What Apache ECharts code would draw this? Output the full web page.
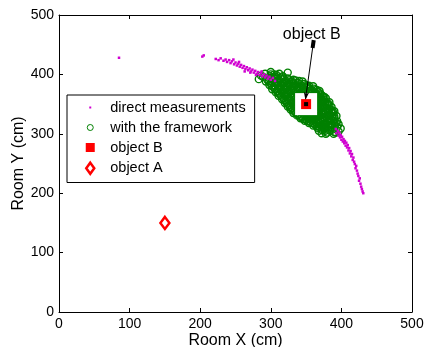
<!DOCTYPE html>
<html>
<head>
<meta charset="utf-8">
<script src="https://cdn.jsdelivr.net/npm/echarts@6/dist/echarts.min.js"></script>
<style>
  html, body { margin: 0; padding: 0; background: #fff; }
  #chart { width: 424px; height: 347px; }
</style>
</head>
<body>
<div id="chart"></div>
<script>
// raw position estimates (cm)
const directMeasurements = [
  [85, 428], [203, 430], [205, 432],
  [222, 426], [226, 424], [229, 427], [233, 423], [236, 425], [238, 421], [241, 424], [243, 419],
  [245, 422], [247, 425], [248, 417], [250, 420], [252, 415], [254, 418], [255, 421], [256, 413],
  [258, 416], [260, 411], [262, 414], [263, 405], [264, 409], [266, 412], [268, 407], [270, 410],
  [271, 403], [272, 405], [274, 408], [276, 403], [278, 406], [279, 399], [280, 401], [282, 404],
  [284, 399], [286, 402], [287, 405], [288, 397], [290, 400], [292, 395], [294, 398], [296, 393],
  [298, 396], [300, 391], [303, 394], [306, 389],
  [392, 308], [395, 305], [393, 301], [397, 302], [396, 297], [399, 298], [398, 294], [401, 295],
  [400, 290], [403, 291], [402, 287], [405, 288], [404, 284], [407, 285], [406, 280], [409, 281],
  [408, 277], [411, 276], [410, 272], [413, 271], [412, 267], [415, 266], [414, 262], [417, 260],
  [416, 256], [418, 253], [419, 249], [421, 246], [420, 242], [422, 238], [423, 233], [424, 229],
  [426, 225], [425, 221], [427, 216], [428, 211], [429, 207], [430, 203], [431, 200]
];

const framework = [
  [389, 300], [396, 304], [392, 302], [390, 303],
  [380, 302], [387, 307], [394, 311], [384, 305],
  [373, 306], [379, 310], [384, 314], [390, 318], [394, 321],
  [366, 310], [372, 314], [378, 318], [383, 323], [389, 327], [393, 330],
  [360, 314], [365, 318], [371, 322], [376, 327], [382, 331], [387, 335], [390, 338],
  [354, 318], [359, 322], [365, 327], [370, 331], [375, 336], [381, 340], [386, 345],
  [348, 322], [353, 326], [358, 331], [364, 336], [369, 340], [374, 345], [380, 349], [383, 353],
  [342, 326], [348, 331], [353, 336], [358, 341], [363, 345], [368, 350], [373, 355], [378, 360],
  [337, 331], [342, 336], [347, 340], [352, 345], [357, 350], [362, 355], [367, 360], [372, 365],
  [332, 335], [337, 340], [342, 345], [347, 350], [352, 355], [357, 360], [362, 365], [367, 370],
  [328, 341], [333, 346], [338, 351], [342, 356], [347, 361], [352, 366], [357, 372], [361, 376],
  [324, 346], [328, 351], [333, 357], [338, 362], [342, 367], [347, 372], [352, 378], [354, 381],
  [320, 352], [324, 358], [329, 363], [333, 368], [338, 374], [342, 379], [347, 384],
  [316, 358], [320, 364], [324, 369], [329, 375], [333, 380], [338, 386], [340, 389],
  [311, 364], [316, 370], [320, 375], [324, 381], [328, 387], [332, 391],
  [307, 370], [311, 376], [315, 381], [319, 387], [324, 393],
  [302, 375], [306, 381], [310, 387], [314, 393], [317, 397],
  [298, 382], [301, 388], [305, 394], [308, 399],
  [293, 388], [297, 394], [300, 400],
  [289, 396], [292, 401],
  [381, 307], [386, 311], [377, 305], [391, 314],
  [372, 309], [377, 314], [383, 318], [389, 322],
  [365, 313], [370, 318], [376, 322], [382, 326], [387, 330],
  [359, 318], [364, 322], [370, 327], [375, 331], [381, 335], [386, 340],
  [352, 321], [357, 326], [363, 330], [368, 335], [374, 339], [379, 344], [383, 348],
  [346, 325], [351, 330], [357, 334], [362, 339], [367, 344], [372, 348], [377, 353],
  [341, 329], [346, 334], [351, 339], [356, 344], [361, 349], [366, 353], [371, 358], [376, 362],
  [336, 334], [341, 339], [346, 344], [351, 349], [356, 354], [361, 359], [366, 364], [370, 368],
  [331, 339], [336, 344], [341, 349], [346, 354], [351, 359], [355, 364], [360, 370], [365, 374],
  [327, 345], [331, 350], [336, 355], [341, 360], [346, 365], [350, 371], [355, 376],
  [323, 351], [328, 356], [332, 361], [337, 367], [341, 372], [346, 377], [350, 382],
  [319, 357], [323, 362], [328, 368], [332, 373], [337, 378], [341, 384],
  [315, 363], [319, 368], [323, 374], [327, 379], [332, 385], [335, 390],
  [310, 369], [314, 374], [318, 380], [323, 386], [326, 390],
  [306, 375], [310, 381], [314, 387], [318, 392],
  [301, 381], [305, 387], [309, 393],
  [297, 388], [301, 394], [305, 400],
  [324, 403], [312, 401], [286, 398], [283, 392], [396, 316], [399, 309],
  [378, 300], [372, 301], [368, 305], [345, 388], [360, 380], [300, 404],
  [375, 309], [381, 313], [386, 316], [392, 319],
  [368, 312], [374, 316], [380, 320], [385, 325], [390, 329],
  [362, 316], [367, 320], [373, 325], [378, 329], [384, 333], [388, 337],
  [356, 320], [361, 324], [367, 329], [372, 333], [377, 338], [382, 342],
  [350, 324], [355, 328], [361, 333], [366, 337], [371, 342], [376, 347], [381, 351],
  [344, 328], [350, 333], [355, 337], [360, 342], [365, 347], [370, 351], [375, 357],
  [339, 332], [344, 337], [349, 342], [359, 352], [364, 357], [369, 362], [374, 363],
  [334, 337], [339, 342], [354, 357], [359, 362], [364, 367], [369, 372],
  [330, 343], [335, 348], [340, 353], [344, 358], [349, 363], [354, 369], [358, 374],
  [326, 348], [330, 353], [335, 359], [340, 364], [344, 369], [349, 374], [352, 380],
  [322, 354], [326, 360], [331, 365], [335, 371], [340, 376], [344, 381],
  [318, 360], [322, 366], [326, 371], [331, 377], [335, 382],
  [313, 366], [317, 372], [321, 377], [326, 383], [330, 388],
  [309, 372], [313, 378], [317, 384], [321, 389],
  [304, 378], [308, 384], [312, 390], [316, 395],
  [300, 385], [303, 391], [307, 396],
  [295, 391], [299, 397]
];

const objectB = [[350, 350]];
const objectA = [[150, 150]];
const arrowFrom = [360, 451];
const arrowTo = [349, 357];
const labelPos = [358, 467];
const legendNames = ['direct measurements', 'with the framework', 'object B', 'object A'];

const FONT = '"Liberation Sans", Arial, Helvetica, sans-serif';

const chart = echarts.init(document.getElementById('chart'), null, { renderer: 'canvas' });

function axis(pos, withLabels, name, nameGap) {
  return {
    type: 'value',
    position: pos,
    min: 0,
    max: 500,
    interval: 100,
    name: name,
    nameLocation: 'middle',
    nameGap: nameGap,
    nameMoveOverlap: false,
    nameTextStyle: { color: '#000', fontSize: 16, fontFamily: FONT },
    axisLine: { show: true, onZero: false, lineStyle: { color: '#000', width: 1 } },
    axisTick: { show: true, inside: true, length: 4, lineStyle: { color: '#000' } },
    axisLabel: { show: withLabels, color: '#000', fontSize: 14, fontFamily: FONT, margin: 5 },
    splitLine: { show: false }
  };
}

const option = {
  animation: false,
  textStyle: { fontFamily: FONT },
  grid: { left: 59, right: 12, top: 15, bottom: 35, outerBoundsMode: 'none', containLabel: false },
  xAxis: [axis('bottom', true, 'Room X (cm)', 21), axis('top', false, '', 0)],
  yAxis: [axis('left', true, 'Room Y (cm)', 32), axis('right', false, '', 0)],
  legend: {
    orient: 'vertical',
    left: 67,
    top: 95,
    padding: [5, 9, 6, 15],
    itemGap: 5,
    itemWidth: 22,
    itemHeight: 14,
    selectedMode: false,
    backgroundColor: '#fff',
    borderColor: '#000',
    borderWidth: 1,
    textStyle: { color: '#000', fontSize: 14.5, fontFamily: FONT },
    data: [
      { name: legendNames[0], icon: 'path://M0,0M22,14M6,6h2v2h-2Z',
        itemStyle: { color: '#d000d0', borderWidth: 0, opacity: 1 } },
      { name: legendNames[1], icon: 'path://M0,0M22,14M10,7A3,3,0,1,1,4,7A3,3,0,1,1,10,7Z',
        itemStyle: { color: 'rgba(0,0,0,0)', borderColor: '#008000', borderWidth: 1, opacity: 1 } },
      { name: legendNames[2], icon: 'path://M0,0M22,14M2.5,2.5h9v9h-9Z',
        itemStyle: { color: '#ff0000', borderWidth: 0, opacity: 1 } },
      { name: legendNames[3], icon: 'path://M0,0M22,14M7,1.5L11,7L7,12.5L3,7Z',
        itemStyle: { color: '#fff', borderColor: '#ff0000', borderWidth: 2.5, opacity: 1 } }
    ]
  },
  series: [
    {
      name: legendNames[1],
      type: 'scatter',
      z: 2,
      symbol: 'circle',
      symbolSize: 7,
      itemStyle: { color: 'rgba(0,0,0,0)', borderColor: '#008000', borderWidth: 1.4, opacity: 1 },
      data: framework
    },
    {
      name: legendNames[0],
      type: 'scatter',
      z: 3,
      symbol: 'rect',
      symbolSize: 2.5,
      itemStyle: { color: '#d000d0', opacity: 1 },
      data: directMeasurements
    },
    {
      name: 'mask',
      type: 'scatter',
      z: 4,
      symbol: 'rect',
      symbolSize: 22,
      itemStyle: { color: '#fff', opacity: 1 },
      data: objectB
    },
    {
      name: legendNames[2],
      type: 'scatter',
      z: 5,
      symbol: 'rect',
      symbolSize: 10,
      itemStyle: { color: '#ff0000', opacity: 1 },
      data: objectB
    },
    {
      name: legendNames[3],
      type: 'scatter',
      z: 5,
      symbol: 'diamond',
      symbolSize: [9, 12],
      itemStyle: { color: '#fff', borderColor: '#ff0000', borderWidth: 2.5, opacity: 1 },
      data: objectA
    },
    {
      name: 'annotation',
      type: 'scatter',
      z: 6,
      symbol: 'rect',
      symbolSize: 4,
      itemStyle: { color: '#000', opacity: 1 },
      data: [
        { value: objectB[0] },
        { value: labelPos, symbolSize: 0,
          label: { show: true, position: 'inside', formatter: 'object B',
                   color: '#000', fontSize: 16, fontFamily: FONT } }
      ],
      markLine: {
        silent: true,
        symbol: ['rect', 'arrow'],
        symbolSize: [4, 8],
        lineStyle: { color: '#000', width: 1, type: 'solid', opacity: 1 },
        label: { show: false },
        data: [[{ coord: arrowFrom }, { coord: arrowTo }]]
      }
    }
  ]
};

chart.setOption(option);
</script>
</body>
</html>
